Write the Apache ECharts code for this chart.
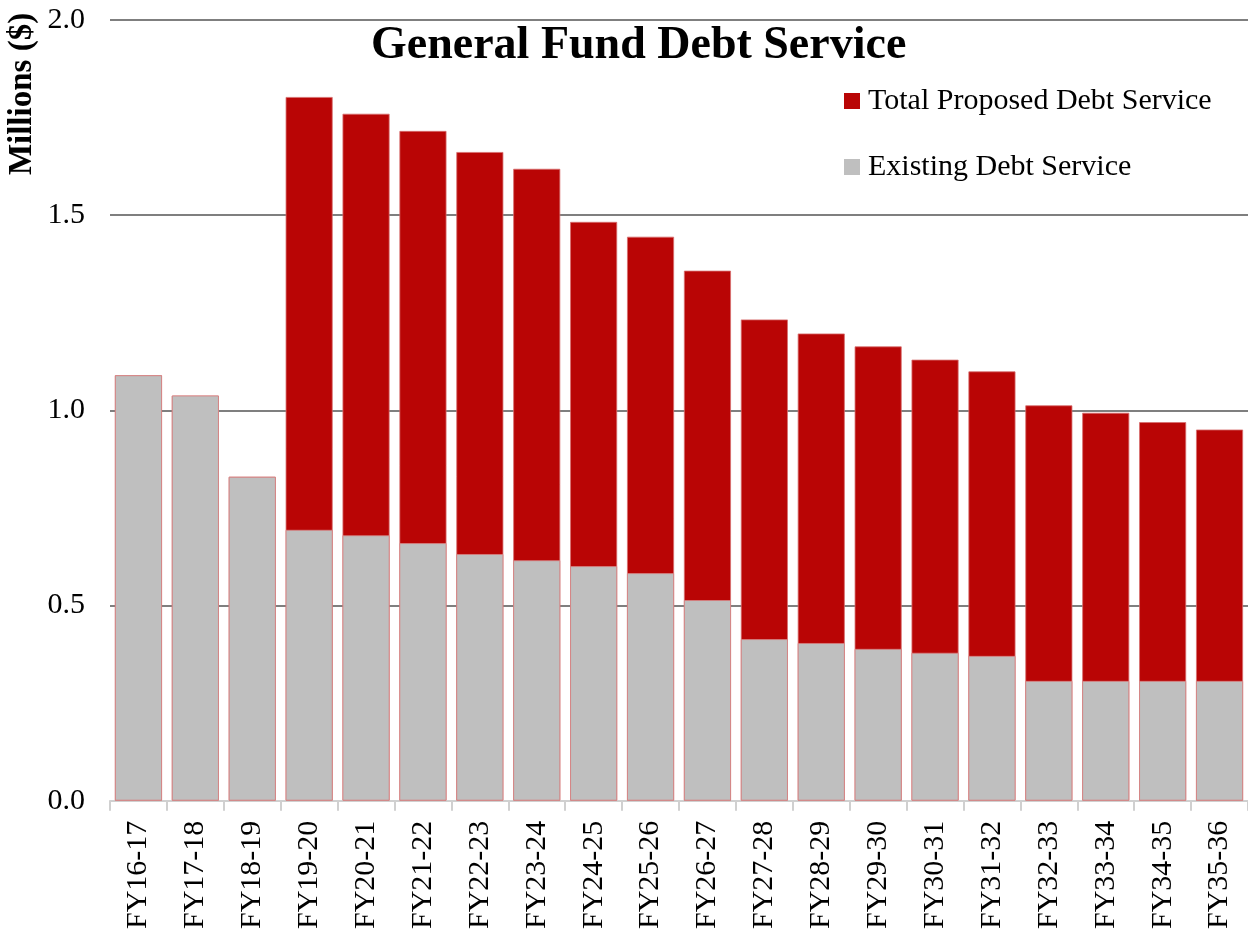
<!DOCTYPE html>
<html>
<head>
<meta charset="utf-8">
<script src="https://cdn.jsdelivr.net/npm/echarts@6/dist/echarts.min.js"></script>
<style>
  html, body { margin: 0; padding: 0; background: #fff; }
  #chart { width: 1248px; height: 932px; }
</style>
</head>
<body>
<div id="chart"></div>
<script>
// Fiscal years on the category axis
var fiscalYears = ['FY16-17', 'FY17-18', 'FY18-19', 'FY19-20', 'FY20-21', 'FY21-22', 'FY22-23',
  'FY23-24', 'FY24-25', 'FY25-26', 'FY26-27', 'FY27-28', 'FY28-29', 'FY29-30', 'FY30-31',
  'FY31-32', 'FY32-33', 'FY33-34', 'FY34-35', 'FY35-36'];

// Total proposed debt service, millions of dollars
var totalProposed = [1.090, 1.038, 0.830, 1.803, 1.760, 1.716, 1.662, 1.619, 1.483, 1.445,
  1.358, 1.233, 1.197, 1.164, 1.130, 1.100, 1.013, 0.994, 0.970, 0.951];

// Existing debt service, millions of dollars
var existing = [1.090, 1.038, 0.830, 0.694, 0.680, 0.660, 0.632, 0.616, 0.601, 0.583,
  0.514, 0.414, 0.404, 0.389, 0.379, 0.371, 0.307, 0.307, 0.307, 0.307];

var yTicks = { min: 0, max: 2.0, interval: 0.5 };

var serif = 'Liberation Serif, Times New Roman, serif';
var chart = echarts.init(document.getElementById('chart'), null, { renderer: 'canvas' });

chart.setOption({
  backgroundColor: '#ffffff',
  animation: false,
  title: {
    text: 'General Fund Debt Service',
    left: 366,
    top: 18,
    textStyle: { fontFamily: serif, fontSize: 46, fontWeight: 'bold', color: '#000' }
  },
  legend: {
    orient: 'vertical',
    left: 839,
    top: 81,
    itemWidth: 16,
    itemHeight: 16,
    itemGap: 36,
    icon: 'rect',
    itemStyle: { borderWidth: 0 },
    data: ['Total Proposed Debt Service', 'Existing Debt Service'],
    textStyle: { fontFamily: serif, fontSize: 30, color: '#000', padding: [0, 0, 0, 3] }
  },
  graphic: [{
    type: 'text',
    x: 22,
    y: 94,
    rotation: Math.PI / 2,
    style: {
      text: 'Millions ($)',
      fontFamily: serif,
      fontSize: 33,
      fontWeight: 'bold',
      fill: '#000',
      textAlign: 'center',
      textVerticalAlign: 'middle'
    }
  }],
  grid: { left: 110, right: 0, top: 20, bottom: 130, containLabel: false },
  xAxis: {
    type: 'category',
    data: fiscalYears,
    axisLine: { show: true, lineStyle: { color: '#d0d0d0', width: 2 } },
    axisTick: { show: true, length: 10, lineStyle: { color: '#d0d0d0', width: 2 } },
    axisLabel: { rotate: 90, fontFamily: serif, fontSize: 30, color: '#000', margin: 20 }
  },
  yAxis: {
    type: 'value',
    min: yTicks.min,
    max: yTicks.max,
    interval: yTicks.interval,
    axisLine: { show: false },
    axisTick: { show: false },
    splitLine: { show: true, lineStyle: { color: '#7f7f7f', width: 2 } },
    axisLabel: {
      fontFamily: serif, fontSize: 30, color: '#000', margin: 25,
      formatter: function (v) { return v.toFixed(1); }
    }
  },
  series: [
    {
      name: 'Total Proposed Debt Service',
      type: 'bar',
      data: totalProposed,
      barCategoryGap: '17%',
      barGap: '-100%',
      itemStyle: { color: '#b90505', borderColor: 'rgba(215,110,110,0.8)', borderWidth: 1 }
    },
    {
      name: 'Existing Debt Service',
      type: 'bar',
      data: existing,
      barCategoryGap: '17%',
      barGap: '-100%',
      itemStyle: { color: '#bfbfbf', borderColor: 'rgba(215,130,130,0.8)', borderWidth: 1 }
    }
  ]
});
</script>
</body>
</html>
